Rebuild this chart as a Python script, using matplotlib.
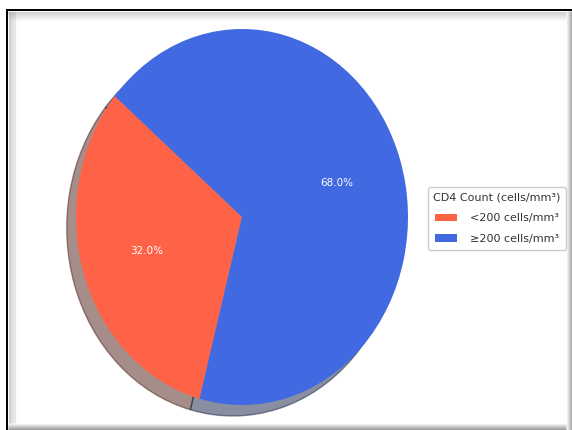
import numpy as np
import matplotlib
matplotlib.use('Agg')
import matplotlib.pyplot as plt
from matplotlib.lines import Line2D

groups = ['<200 cells/mm³', '≥200 cells/mm³']
shares = [32.0, 68.0]
colors = ['tomato', 'royalblue']

W, H = 572, 430
fig = plt.figure(figsize=(W / 100, H / 100), dpi=100)
fig.patch.set_facecolor('white')

ax = fig.add_axes([0.1038, 0.0144, 0.6385, 0.9619])
wedges, texts, autotexts = ax.pie(
    shares, colors=colors, autopct='%1.1f%%', startangle=140,
    shadow={'ox': -0.04, 'oy': -0.042},
    textprops={'color': 'white', 'fontsize': 7.5})
ax.set_aspect('auto')
ax.set_xlim(-1.1, 1.1)
ax.set_ylim(-1.1, 1.1)

leg = fig.legend(wedges, groups, title='CD4 Count (cells/mm³)',
                 loc='center left', bbox_to_anchor=(0.748, 0.492),
                 borderaxespad=0, fontsize=8, title_fontsize=8,
                 labelspacing=0.95, borderpad=0.5, handletextpad=1.2,
                 framealpha=1, edgecolor='#cccccc')
for t in leg.get_texts():
    t.set_color('#333333')
leg.get_title().set_color('#333333')


# screenshot-style frame: dark top/left edge, soft grey fade on the others
def px(x, y):
    return x / W, 1 - y / H


def hline(y, x0, x1, color, lw=1.0, alpha=1.0):
    (a, yy), (b, _) = px(x0, y), px(x1, y)
    fig.add_artist(Line2D([a, b], [yy, yy], color=color, lw=lw * 0.72,
                          alpha=alpha, solid_capstyle='butt'))


def vline(x, y0, y1, color, lw=1.0, alpha=1.0):
    (xx, a), (_, b) = px(x, y0), px(x, y1)
    fig.add_artist(Line2D([xx, xx], [a, b], color=color, lw=lw * 0.72,
                          alpha=alpha, solid_capstyle='butt'))


for i in range(9):
    hline(11.5 + i, 8, 566, '#9a9a9a', alpha=0.45 * (1 - i / 9))
    vline(8.5 + i, 11, 423, '#9a9a9a', alpha=0.45 * (1 - i / 9))
for i in range(6):
    vline(566.5 + i, 11, 430, '#8c8c8c', alpha=0.15 + 0.14 * i)
    hline(423.5 + i, 8, 566, '#8c8c8c', alpha=0.15 + 0.14 * i)
hline(10, 6, 572, 'black', lw=2.0)
vline(7, 9, 430, 'black', lw=2.0)

fig.savefig('out.png', dpi=100)
